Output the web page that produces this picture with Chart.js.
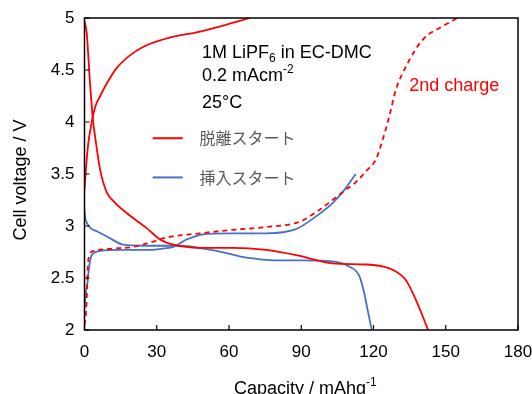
<!DOCTYPE html>
<html lang="ja">
<head>
<meta charset="UTF-8">
<title>Cell voltage vs capacity</title>
<style>
    body { margin: 0; background: #fff; }
    #wrap { width: 532px; height: 394px; }
</style>
<script src="https://cdn.jsdelivr.net/npm/chart.js"></script>
</head>
<body>
<div id="wrap"><canvas id="chart" width="532" height="394"></canvas></div>
<script>
// capacity (mAh/g) and voltage (V)
// red solid: 脱離スタート, first charge then discharge
const capRedCharge = [0, 0.6, 1.5, 3, 4.5, 6.5, 9, 13.4, 20, 27, 35, 48, 58, 68.7];
const voltRedCharge = [3.35, 3.55, 3.78, 4.0, 4.15, 4.25, 4.36, 4.52, 4.66, 4.75, 4.81, 4.87, 4.93, 5.0];

const capRedDis = [0, 0.9, 2.3, 3.5, 4.4, 6.5, 9.3, 12, 17.5, 25.8, 31.4, 36.9, 48, 61.8, 75.4, 87.9, 103, 116.8, 124, 127.9, 133.4, 137.6, 142.7];
const voltRedDis = [4.97, 4.86, 4.37, 4.02, 3.86, 3.54, 3.32, 3.24, 3.125, 2.98, 2.87, 2.82, 2.79, 2.79, 2.77, 2.72, 2.64, 2.63, 2.61, 2.58, 2.48, 2.29, 2.0];

// red dashed: 2nd charge
const capRed2nd = [0, 0.7, 1.6, 3.7, 10, 20.3, 27, 34.1, 48, 60, 75.4, 89.2, 96, 103, 108, 112.6, 117, 121, 123.8, 126.5, 129.3, 133.4, 140.4, 148.7, 154.9];
const voltRed2nd = [2.05, 2.19, 2.68, 2.76, 2.78, 2.80, 2.84, 2.89, 2.93, 2.96, 2.99, 3.04, 3.13, 3.25, 3.34, 3.42, 3.53, 3.64, 3.83, 4.05, 4.31, 4.53, 4.79, 4.92, 5.0];

// blue: 挿入スタート, first discharge then charge
const capBlueDis = [0, 0.3, 1, 2.5, 5.1, 10, 16.1, 25, 39.7, 50, 59, 66, 72.9, 80, 90, 103, 109.9, 114.1, 116.1, 117.5, 119.3];
const voltBlueDis = [3.15, 3.08, 3.03, 2.98, 2.95, 2.89, 2.82, 2.81, 2.81, 2.78, 2.74, 2.70, 2.68, 2.67, 2.67, 2.66, 2.61, 2.52, 2.36, 2.2, 2.0];

const capBlueCharge = [0, 0.5, 1.2, 2, 3, 6.5, 15, 27.2, 33, 36.9, 42.4, 49.3, 60, 75.4, 87.8, 96, 103, 108, 112.6];
const voltBlueCharge = [2.2, 2.35, 2.45, 2.62, 2.72, 2.76, 2.77, 2.77, 2.785, 2.80, 2.87, 2.92, 2.93, 2.93, 2.97, 3.09, 3.22, 3.35, 3.50];

const xTicks = [0, 30, 60, 90, 120, 150, 180];
const yTicks = [2, 2.5, 3, 3.5, 4, 4.5, 5];

const legendLabels = ['脱離スタート', '挿入スタート'];
const noteLines = ['1M LiPF', '0.2 mAcm', '25°C'];

const RED = '#ff0000';
const BLUE = '#4472c4';
const FONT = '"Liberation Sans", Arial, sans-serif';

function pts(xs, ys) {
    return xs.map((x, i) => ({ x: x, y: ys[i] }));
}

function line(xs, ys, color, dash) {
    return {
        data: pts(xs, ys),
        showLine: true,
        borderColor: color,
        borderWidth: 1.8,
        borderDash: dash || [],
        pointRadius: 0,
        cubicInterpolationMode: 'monotone',
        fill: false
    };
}

// frame, inward ticks, titles and notes
const decorations = {
    id: 'decorations',
    afterDraw(chart) {
        const ctx = chart.ctx;
        const a = chart.chartArea;
        const xs = chart.scales.x;
        const ys = chart.scales.y;
        ctx.save();

        ctx.strokeStyle = '#000';
        ctx.lineWidth = 1.5;
        ctx.strokeRect(a.left, a.top, a.right - a.left, a.bottom - a.top);

        ctx.lineWidth = 1.2;
        ctx.beginPath();
        yTicks.forEach(v => {
            const py = ys.getPixelForValue(v);
            ctx.moveTo(a.left, py);
            ctx.lineTo(a.left + 5, py);
        });
        xTicks.forEach(v => {
            const px = xs.getPixelForValue(v);
            ctx.moveTo(px, a.bottom);
            ctx.lineTo(px, a.bottom - 5);
        });
        ctx.stroke();

        // axis titles
        ctx.fillStyle = '#000';
        ctx.textBaseline = 'alphabetic';
        const xt = 'Capacity / mAhg';
        ctx.font = '18px ' + FONT;
        const wMain = ctx.measureText(xt).width;
        ctx.font = '12px ' + FONT;
        const wSup = ctx.measureText('-1').width;
        let tx = (a.left + a.right) / 2 - (wMain + wSup) / 2 + 4;
        ctx.textAlign = 'left';
        ctx.font = '18px ' + FONT;
        ctx.fillText(xt, tx, 394);
        ctx.font = '12px ' + FONT;
        ctx.fillText('-1', tx + wMain, 386);

        ctx.save();
        ctx.translate(26, 180);
        ctx.rotate(-Math.PI / 2);
        ctx.textAlign = 'center';
        ctx.font = '18px ' + FONT;
        ctx.fillText('Cell voltage / V', 0, 0);
        ctx.restore();

        // conditions note
        ctx.textAlign = 'left';
        const nx = xs.getPixelForValue(48.8);
        const b1 = ys.getPixelForValue(4.6125);
        const b2 = ys.getPixelForValue(4.39);
        const b3 = ys.getPixelForValue(4.135);
        ctx.font = '18px ' + FONT;
        ctx.fillText(noteLines[0], nx, b1);
        let w = ctx.measureText(noteLines[0]).width;
        ctx.font = '12px ' + FONT;
        ctx.fillText('6', nx + w, b1 + 4);
        let w6 = ctx.measureText('6').width;
        ctx.font = '18px ' + FONT;
        ctx.fillText(' in EC-DMC', nx + w + w6, b1);

        ctx.fillText(noteLines[1], nx, b2);
        w = ctx.measureText(noteLines[1]).width;
        ctx.font = '12px ' + FONT;
        ctx.fillText('-2', nx + w, b2 - 8);
        ctx.font = '18px ' + FONT;
        ctx.fillText(noteLines[2], nx, b3);

        // 2nd charge label
        ctx.fillStyle = RED;
        ctx.fillText('2nd charge', xs.getPixelForValue(134.8), ys.getPixelForValue(4.294));

        // legend
        const lx1 = xs.getPixelForValue(28.3);
        const lx2 = xs.getPixelForValue(40.8);
        const tx2 = xs.getPixelForValue(47.7);
        const legendY = [ys.getPixelForValue(3.844), ys.getPixelForValue(3.467)];
        const legendC = [RED, BLUE];
        ctx.font = '16px "Noto Sans CJK JP", sans-serif';
        ctx.textBaseline = 'middle';
        legendLabels.forEach((lab, i) => {
            ctx.strokeStyle = legendC[i];
            ctx.lineWidth = 2;
            ctx.beginPath();
            ctx.moveTo(lx1, legendY[i]);
            ctx.lineTo(lx2, legendY[i]);
            ctx.stroke();
            ctx.fillStyle = '#595959';
            ctx.fillText(lab, tx2, legendY[i]);
        });

        ctx.restore();
    }
};

new Chart(document.getElementById('chart'), {
    type: 'scatter',
    data: {
        datasets: [
            line(capRedCharge, voltRedCharge, RED),
            line(capRedDis, voltRedDis, RED),
            line(capRed2nd, voltRed2nd, RED, [5, 4]),
            line(capBlueDis, voltBlueDis, BLUE),
            line(capBlueCharge, voltBlueCharge, BLUE)
        ]
    },
    options: {
        responsive: false,
        animation: false,
        layout: { padding: { top: 18, right: 14, left: 0, bottom: 0 } },
        plugins: { legend: { display: false }, tooltip: { enabled: false } },
        scales: {
            x: {
                type: 'linear',
                min: 0, max: 180,
                afterBuildTicks: s => { s.ticks = xTicks.map(v => ({ value: v })); },
                afterFit: s => { s.height = 64; s.paddingLeft = 0; s.paddingRight = 0; },
                grid: { display: false, drawTicks: false },
                border: { display: false },
                ticks: { color: '#000', padding: 12, maxRotation: 0, font: { family: FONT, size: 17 },
                         callback: v => String(v) }
            },
            y: {
                type: 'linear',
                min: 2, max: 5,
                afterBuildTicks: s => { s.ticks = yTicks.map(v => ({ value: v })); },
                afterFit: s => { s.width = 84.5; s.paddingTop = 0; s.paddingBottom = 0; },
                grid: { display: false, drawTicks: false },
                border: { display: false },
                ticks: { color: '#000', padding: 10, font: { family: FONT, size: 17 },
                         callback: v => String(v) }
            }
        }
    },
    plugins: [decorations]
});
</script>
</body>
</html>
